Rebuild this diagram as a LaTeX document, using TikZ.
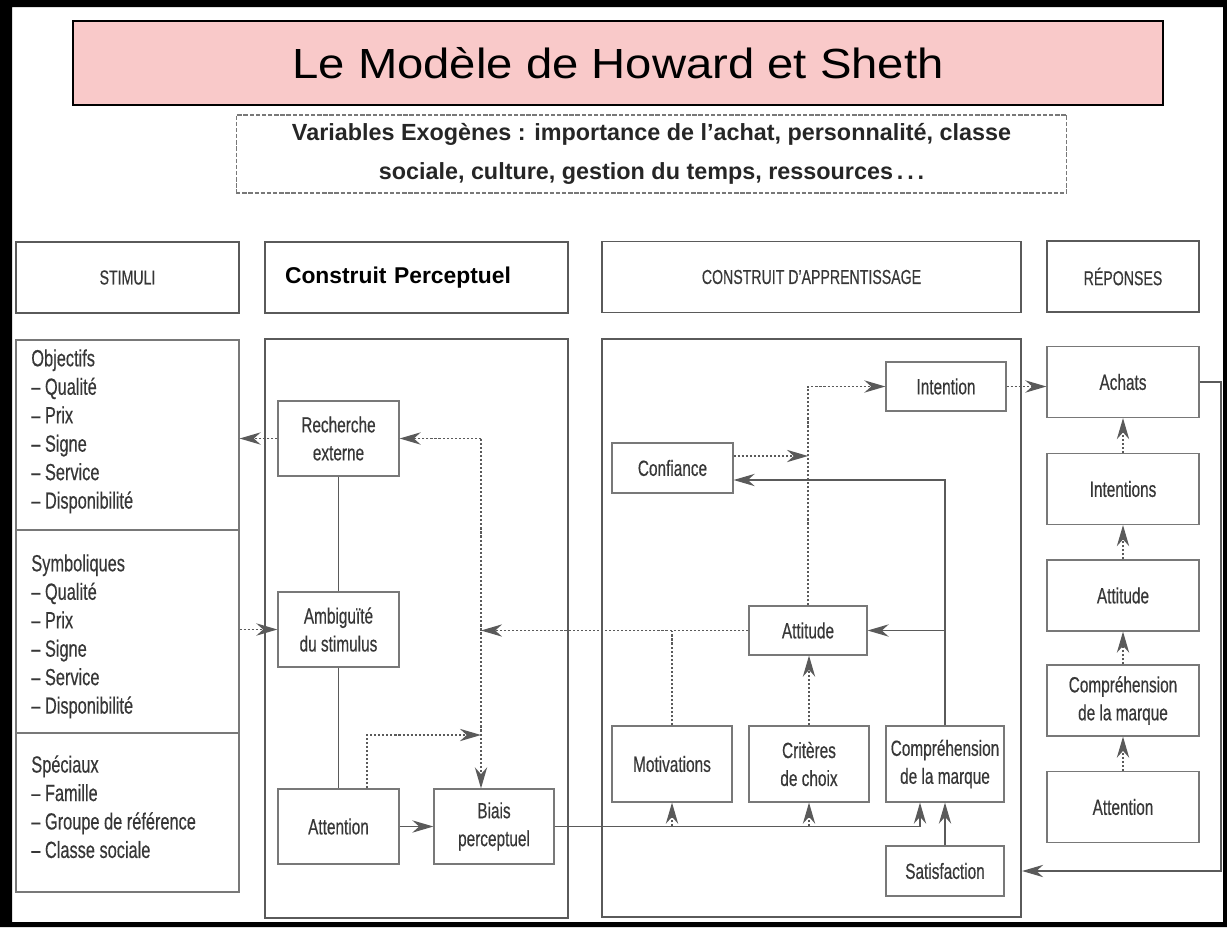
\documentclass[tikz,border=0pt]{standalone}
\usepackage{fontspec}
\setmainfont{Liberation Sans}
\newfontfamily\condf[FakeStretch=0.7,FakeBold=0.4]{Liberation Sans}
\newfontfamily\titlef[FakeStretch=1.12]{Liberation Sans}
\usetikzlibrary{arrows.meta}
\definecolor{titlepink}{RGB}{249,201,201}
\definecolor{boxgray}{RGB}{120,120,120}
\definecolor{linegray}{RGB}{90,90,90}
\definecolor{txtgray}{RGB}{55,55,55}
\tikzset{
  >={Stealth[length=12pt,width=7pt]},
  box/.style={draw=boxgray, line width=0.7pt, fill=white, text=txtgray, align=center, inner sep=0pt,
    font=\condf\fontsize{12.5}{15.9}\selectfont, minimum width=2.42cm, minimum height=1.5cm},
  rbox/.style={box, minimum width=3.04cm, minimum height=1.42cm},
  hdr/.style={draw=linegray, line width=1.1pt, text=txtgray, minimum height=1.42cm, inner sep=0pt,
    font=\condf\fontsize{11.5}{13}\selectfont},
  bigbox/.style={draw=linegray, line width=1.3pt},
  listbox/.style={draw=boxgray, line width=0.7pt},
  listtxt/.style={anchor=north west, align=left, inner sep=0pt, text=txtgray,
    font=\condf\fontsize{13.3}{16.2}\selectfont},
  solidline/.style={draw=linegray, line width=0.7pt},
  dotline/.style={draw=linegray, line width=0.8pt, dash pattern=on 1.2pt off 1.1pt},
}
\begin{document}
\begin{tikzpicture}[x=0.02cm,y=-0.02cm]
	\useasboundingbox (0,0) rectangle (1227,927);
	\fill[black,even odd rule] (0,0) rectangle (1227,927) (12,7) rectangle (1223,922);

	\node[draw=black, line width=1.2pt, fill=titlepink, minimum width=21.8cm, minimum height=1.68cm,
	  font=\titlef\fontsize{24}{28}\selectfont] (title) at (618,63) {Le Modèle de Howard et Sheth};
	\node[draw=boxgray, line width=0.6pt, dash pattern=on 2.5pt off 1pt, minimum width=16.62cm,
	  minimum height=1.56cm, align=center, text=black!85, font=\bfseries\fontsize{13.3}{22}\selectfont] (exo) at (651.5,154)
	  {Variables Exogènes : importance de l'achat, personnalité, classe\\sociale, culture, gestion du temps, ressources\,.\,.\,.};

	\node[hdr, minimum width=4.46cm] (stimh) at (127.5,277.5) {STIMULI};
	\node[hdr, text width=5.26cm, inner xsep=0.4cm, align=left, text=black,
	  font=\bfseries\fontsize{13}{15}\selectfont] (perch) at (416.5,277.5) {Construit Perceptuel};
	\node[hdr, minimum width=8.38cm] (learnh) at (811.5,277) {CONSTRUIT D’APPRENTISSAGE};
	\node[hdr, minimum width=3.04cm] (reph) at (1123,276.5) {RÉPONSES};

	\node[listbox, minimum width=4.46cm, minimum height=11.04cm] (stimlist) at (127.5,616) {};
	\node[bigbox, minimum width=6.06cm, minimum height=11.58cm] (percbox) at (416.5,628.5) {};
	\node[bigbox, minimum width=8.38cm, minimum height=11.56cm] (learnbox) at (811.5,628) {};

	\coordinate (divA) at (16,530);
	\coordinate (divB) at (16,733);
	\draw[listbox] (divA) -- (divA -| stimlist.east);
	\draw[listbox] (divB) -- (divB -| stimlist.east);
	\node[listtxt] (objtxt) at (31,349) {Objectifs\\– Qualité\\– Prix\\– Signe\\– Service\\– Disponibilité};
	\node[listtxt] (symtxt) at (31,554) {Symboliques\\– Qualité\\– Prix\\– Signe\\– Service\\– Disponibilité};
	\node[listtxt] (spetxt) at (31,755) {Spéciaux\\– Famille\\– Groupe de référence\\– Classe sociale};

	\node[box] (rech) at (338.5,438.5) {Recherche\\externe};
	\node[box] (ambig) at (338.5,629.5) {Ambiguïté\\du stimulus};
	\node[box] (attp) at (338.5,826.5) {Attention};
	\node[box, minimum width=2.4cm] (biais) at (494,826.5) {Biais\\perceptuel};

	\node[box, minimum width=2.4cm, minimum height=0.98cm] (intl) at (946,386.5) {Intention};
	\node[box, minimum height=1cm] (conf) at (672.5,468) {Confiance};
	\node[box, minimum width=2.36cm, minimum height=0.98cm] (attl) at (808,630.5) {Attitude};
	\node[box, minimum width=2.4cm, minimum height=1.52cm] (motiv) at (672,764) {Motivations};
	\node[box, minimum width=2.4cm, minimum height=1.52cm] (crit) at (809,764) {Critères\\de choix};
	\node[box, minimum width=2.36cm, minimum height=1.52cm] (compl) at (945,764) {Compréhension\\de la marque};
	\node[box, minimum width=2.36cm, minimum height=1cm] (satis) at (945,871) {Satisfaction};

	\node[rbox] (achats) at (1123,382) {Achats};
	\node[rbox] (intr) at (1123,489) {Intentions};
	\node[rbox] (attr) at (1123,595.5) {Attitude};
	\node[rbox] (compr) at (1123,700.5) {Compréhension\\de la marque};
	\node[rbox] (attnr) at (1123,807) {Attention};

	\coordinate (pv) at (481,438.5);
	\coordinate (pk) at (367,735);
	\draw[dotline,->] (rech.west) -- (rech.west -| stimlist.east);
	\draw[dotline,->] (ambig.west -| stimlist.east) -- (ambig.west);
	\draw[dotline,->] (pv) -- (rech.east);
	\draw[dotline,->] (pv) -- (pv |- biais.north);
	\draw[solidline] (rech.south) -- (ambig.north) (ambig.south) -- (attp.north);
	\draw[dotline,->] (attp.north -| pk) -- (pk) -- (pk -| pv);
	\draw[solidline,->] (attp) -- (biais);

	\path ([yshift=0.24cm]conf.east) coordinate (confhi) ([yshift=-0.24cm]conf.east) coordinate (conflo);
	\draw[dotline,->] (attl.west) -- (attl.west -| pv);
	\draw[dotline] (motiv.north) -- (motiv.north |- attl.west);
	\draw[dotline,->] (crit.north) -- (crit.north |- attl.south);
	\draw[dotline,->] (attl.north) |- (intl.west);
	\draw[dotline,->] (confhi) -- (confhi -| attl.north);
	\draw[solidline,->] (compl.north) |- (conflo);
	\draw[solidline,->] (compl.north |- attl.east) -- (attl.east);
	\draw[solidline,->] (biais.east) -| ([xshift=-0.5cm]compl.south);
	\draw[dotline,->] (motiv.south |- biais.east) -- (motiv.south);
	\draw[dotline,->] (crit.south |- biais.east) -- (crit.south);
	\draw[solidline,->] (satis) -- (compl);

	\draw[dotline,->] (intl.east) -- (intl.east -| achats.west);
	\draw[dotline,->] (intr) -- (achats);
	\draw[dotline,->] (attr) -- (intr);
	\draw[dotline,->] (compr) -- (attr);
	\draw[dotline,->] (attnr) -- (compr);
	\coordinate (fb) at (1221,871);
	\draw[solidline,->] (achats.east) -| (fb) -- (fb -| learnbox.east);
\end{tikzpicture}
\end{document}
